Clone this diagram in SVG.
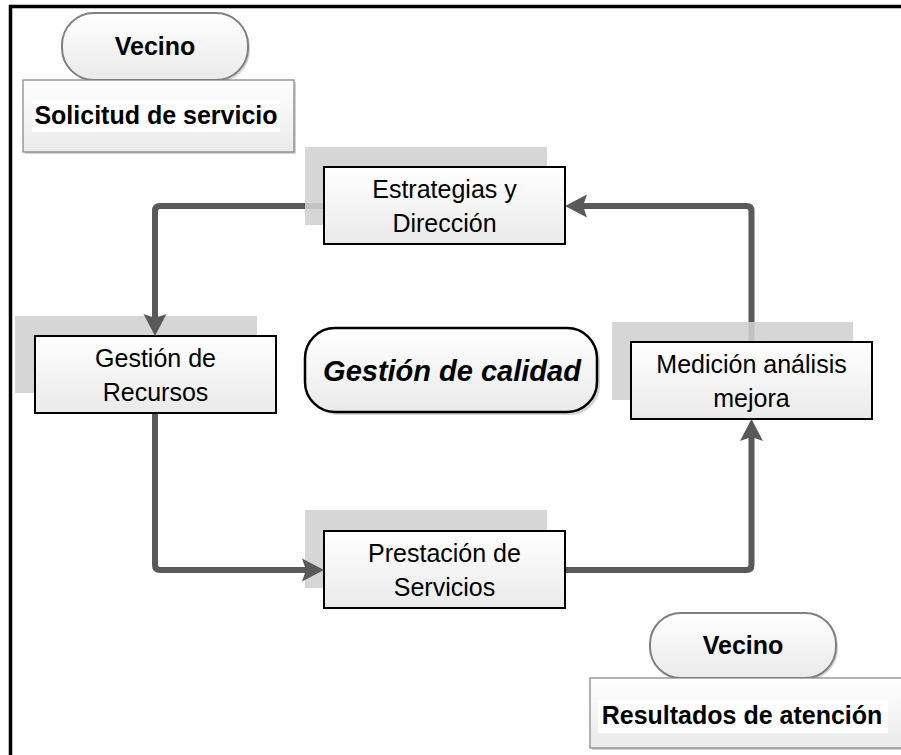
<svg xmlns="http://www.w3.org/2000/svg" width="901" height="755" viewBox="0 0 901 755">
<defs>
<linearGradient id="g" x1="0" y1="0" x2="0" y2="1"><stop offset="0" stop-color="#ffffff"/><stop offset="1" stop-color="#eaeaea"/></linearGradient>
<marker id="arr" markerUnits="userSpaceOnUse" markerWidth="24" markerHeight="24" viewBox="0 -12 24 24" refX="4" refY="0" orient="auto"><path d="M0,-11.5 L22,0 L0,11.5 L4,0 Z" fill="#595959"/></marker>
</defs>
<style>
.conn{fill:none;stroke:#595959;stroke-width:6;stroke-linejoin:round}
.shadow{fill:#d0d0d0;opacity:0.88}
.box{fill:url(#g);stroke:#000;stroke-width:2}
.t{font-family:"Liberation Sans",Arial,sans-serif;font-size:25px;fill:#000;text-anchor:middle}
.b{font-weight:bold}
.pill{fill:url(#g);stroke:#808080;stroke-width:2}
.ds{fill:#d4d4d4}
</style>
<rect width="901" height="755" fill="#fff"/>
<path d="M10.5,755 V6.5 H901" fill="none" stroke="#000" stroke-width="3.5"/>
<g id="recursos">
<rect class="shadow" x="15" y="316" width="242" height="77"/>
<rect class="box" x="35" y="336" width="241" height="77"/>
<text class="t" x="155.5" y="367">Gestión de</text>
<text class="t" x="155.5" y="401">Recursos</text>
</g>
<g id="prestacion">
<rect class="shadow" x="305" y="510" width="242" height="78"/>
<rect class="box" x="324" y="531" width="241" height="77"/>
<text class="t" x="444.5" y="562">Prestación de</text>
<text class="t" x="444.5" y="596">Servicios</text>
</g>
<g id="connectors">
<path class="conn" d="M324,206 H160 Q155,206 155,211 V318" marker-end="url(#arr)"/>
<path class="conn" d="M155,414 V565 Q155,570 160,570 H306" marker-end="url(#arr)"/>
<path class="conn" d="M566,570 H746.5 Q751.5,570 751.5,565 V437" marker-end="url(#arr)"/>
<path class="conn" d="M751.5,342 V211 Q751.5,206 746.5,206 H583" marker-end="url(#arr)"/>
</g>
<g id="estrategias">
<rect class="shadow" x="305" y="147" width="242" height="78"/>
<rect class="box" x="324" y="167" width="241" height="77"/>
<text class="t" x="444.5" y="198">Estrategias y</text>
<text class="t" x="444.5" y="232">Dirección</text>
</g>
<g id="medicion">
<rect class="shadow" x="612" y="322" width="241" height="78"/>
<rect class="box" x="631" y="342" width="241" height="77"/>
<text class="t" x="751.5" y="373">Medición análisis</text>
<text class="t" x="751.5" y="407">mejora</text>
</g>
<g id="vecino-top">
<rect class="ds" x="64" y="15" width="186" height="67" rx="32"/>
<rect class="pill" x="62" y="13" width="186" height="67" rx="32"/>
<text class="t b" x="155" y="55">Vecino</text>
</g>
<g id="solicitud">
<rect class="ds" x="25" y="82" width="271" height="72"/>
<rect x="23" y="80" width="271" height="72" fill="url(#g)" stroke="#808080" stroke-width="1.2"/>
<rect x="32" y="100" width="248" height="32" fill="#fff"/>
<text class="t b" x="156" y="124">Solicitud de servicio</text>
</g>
<g id="calidad">
<rect class="ds" x="308" y="331" width="292" height="84" rx="30"/>
<rect x="305" y="328" width="292" height="84" rx="30" fill="url(#g)" stroke="#000" stroke-width="2.5"/>
<text class="t b" x="452" y="381" font-style="italic" style="font-size:29px">Gestión de calidad</text>
</g>
<g id="vecino-bottom">
<rect class="ds" x="652" y="615" width="186" height="65" rx="31"/>
<rect class="pill" x="650" y="613" width="186" height="65" rx="31"/>
<text class="t b" x="743" y="654">Vecino</text>
</g>
<g id="resultados">
<rect class="ds" x="592" y="680" width="320" height="70"/>
<rect x="590" y="678" width="320" height="70" fill="url(#g)" stroke="#808080" stroke-width="1.2"/>
<rect x="598" y="700" width="290" height="33" fill="#fff"/>
<text class="t b" x="742" y="724">Resultados de atención</text>
</g>
</svg>
